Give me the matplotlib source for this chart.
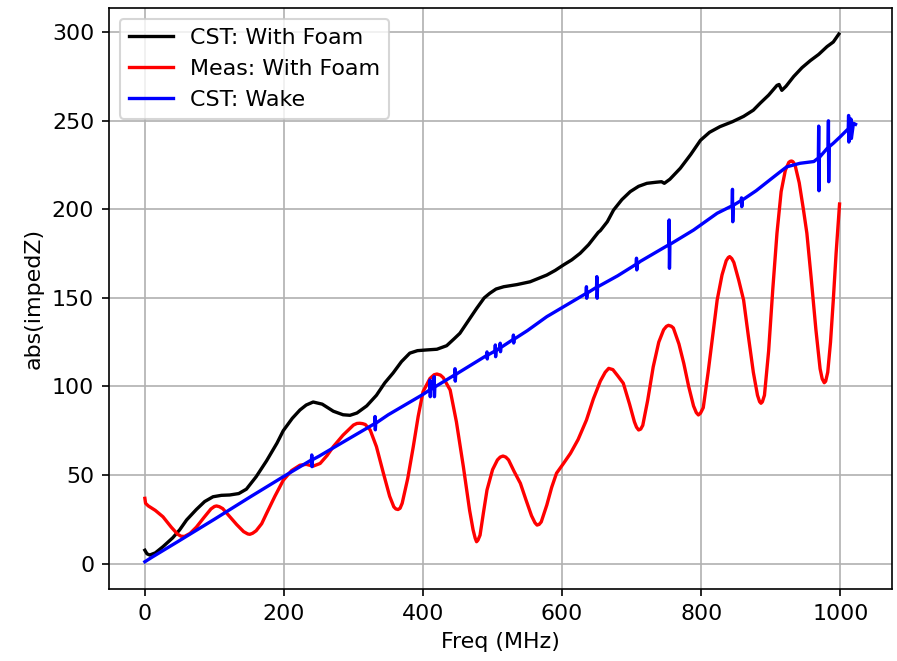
import matplotlib
matplotlib.use('Agg')
import matplotlib.pyplot as plt

plt.rcParams['font.size'] = 10.6
plt.rcParams['lines.linewidth'] = 1.6

# CST: With Foam (black)
foam_x = [0, 3, 7, 15, 26, 40, 50, 60, 74, 86, 98, 110, 122, 135, 146, 160, 175, 190, 199,
          212, 223, 232, 242, 255, 271, 285, 295, 305, 319, 333, 345, 357, 369, 381, 392,
          405, 420, 434, 445, 453, 465, 477, 488, 496, 505, 516, 535, 554, 578, 590, 602,
          614, 626, 638, 648, 652, 655, 665, 674, 686, 698, 710, 722, 735, 743, 747, 755,
          770, 785, 799, 812, 827, 845, 861, 875, 885, 897, 909, 912, 916, 922, 933, 945,
          957, 969, 981, 990, 998]
foam_y = [7.5, 5.5, 4.8, 6, 9.5, 14.5, 19, 24.6, 30.5, 35, 37.7, 38.5, 38.7, 39.5, 42, 49, 58,
          68, 75, 82, 86.7, 89.5, 91.2, 90, 86, 84, 83.7, 85, 89, 95, 102, 107.6, 114, 118.8,
          120.2, 120.6, 121, 123, 127, 130, 137, 144, 150, 152.6, 155, 156.3, 157.5, 159.1,
          162.9, 165.5, 168.6, 171.5, 175.2, 180, 185, 187, 188, 193, 199.6, 205.5, 210, 213,
          214.7, 215.3, 215.6, 214.7, 217, 223.2, 231, 239, 243.5, 246.7, 249.5, 252.5, 256,
          260, 264.5, 270, 270.5, 267.2, 269.5, 275, 280, 284, 287.5, 291.9, 294.5, 299]

# Meas: With Foam (red)
meas_x = [0, 1, 5, 15, 26, 38, 47, 52, 57, 65, 74, 85, 95, 100, 103, 107, 112, 122, 132, 142,
          148, 151, 155, 160, 168, 175, 187, 199, 211, 223, 232, 242, 252, 262, 271, 285, 300,
          305, 309, 313, 317, 324, 333, 343, 352, 358, 361, 364, 367, 370, 378, 386, 393, 400,
          410, 416, 420, 425, 429, 439, 448, 458, 467, 472, 475, 477, 479, 482, 487, 492, 500,
          507, 511, 515, 519, 523, 531, 540, 548, 556, 561, 564, 567, 570, 578, 585, 592, 602,
          612, 623, 635, 645, 655, 662, 667, 673, 680, 688, 697, 704, 707, 710, 713, 716, 723,
          731, 739, 746, 750, 753, 757, 760, 768, 775, 782, 789, 793, 796, 799, 803, 810, 817,
          823, 830, 836, 839, 841, 844, 847, 854, 861, 868, 875, 881, 884, 886, 888, 891, 897,
          903, 909, 915, 921, 926, 928, 930, 932, 935, 941, 947, 952, 958, 965, 971, 974, 977,
          979, 982, 986, 990, 994, 999]
meas_y = [36.8, 34, 32.5, 30, 26.4, 20.5, 16.6, 15.4, 15.3, 17, 20.5, 26, 30.8, 32.2, 32.5,
          32.1, 31, 26.5, 22, 18, 16.7, 16.5, 17.1, 18.5, 22.5, 28.3, 38, 47, 52.5, 55.5, 56,
          55, 56.5, 61, 66, 72.5, 78.2, 79.1, 79.2, 79.0, 78.5, 75.4, 66, 51, 38, 32, 30.8,
          30.5, 31.2, 34, 48, 66, 83, 97, 104.5, 106.6, 107, 106.4, 105, 98, 80, 54.7, 30, 19,
          14.3, 12.3, 13.2, 16, 29, 41.5, 53, 58.5, 60.1, 60.7, 60.1, 58.5, 52, 45.3, 36, 27,
          23, 21.7, 22.1, 23.5, 33, 43, 51, 56.5, 62.2, 70, 81, 93, 103, 108, 110.2, 109.5,
          106, 101.8, 90, 80, 77, 75.4, 75.9, 78, 92, 111, 125, 132, 133.9, 134.5, 134.0, 133,
          124, 113, 100, 89, 85.2, 83.9, 84.9, 88, 108, 130, 148.8, 163, 171, 172.8, 173.3,
          172.2, 170, 160, 148.8, 128, 108, 95, 91.4, 90.5, 91.3, 95, 120, 155, 186.5, 210,
          222, 226.5, 227.1, 227.3, 226.9, 225, 215, 200, 186.5, 162, 132, 110, 104.3, 102.1,
          102.9, 108, 125, 148.8, 175, 203]

# CST: Wake (blue), including its narrow resonance spikes
wake_x = [0, 10, 50, 100, 151, 199,
          239.5, 240, 240.4, 241, 250, 300,
          330.5, 331, 331.4, 332, 350, 400,
          409.5, 410, 410.4, 411, 415.5, 416, 416.4, 417,
          445.5, 446, 446.4, 447, 450,
          491.5, 492, 492.4, 493, 503.5, 504, 504.4, 505, 510.5, 511, 511.4, 512,
          529.5, 530, 530.4, 531, 550, 578, 600,
          634.5, 635, 635.4, 636, 649.5, 650, 650.4, 651, 680,
          706.5, 707, 707.4, 708, 712, 736,
          753.5, 754, 754.4, 755, 789, 823,
          844.5, 845, 845.4, 846, 857.5, 858, 858.4, 859, 879, 900, 914, 923, 942, 962,
          968.5, 969, 969.4, 970, 982.5, 983, 983.4, 984, 990, 1000,
          1011.5, 1012, 1012.4, 1013, 1015, 1015.4, 1016, 1019, 1022]
wake_y = [1, 3.5, 13, 25, 37.5, 49,
          58.5, 61.3, 54.7, 58.6, 60.5, 72,
          79, 83, 75.5, 79.2, 84, 95.5,
          98, 103.6, 94.2, 98.2, 99.5, 105.5, 94.2, 99.7,
          106.5, 110, 103, 106.7, 107.5,
          117.5, 119.5, 115.5, 117.7, 120, 123.4, 116.8, 120.2, 121.8, 124.4, 119.6, 122,
          126.5, 129, 124.5, 126.7, 131.5, 139.4, 144.5,
          152.5, 156.3, 149.8, 152.7, 156, 162, 149.8, 156.2, 162.5,
          169, 172.4, 165.8, 169.2, 170.5, 176,
          180, 194, 166.7, 180.2, 188.3, 197.8,
          202, 211.3, 193, 202.2, 205, 206.5, 201.5, 205.2, 210.5, 217, 221.3, 224, 226, 227,
          229, 247, 210.5, 229.3, 235, 250, 215.6, 235.3, 237.3, 241,
          245.5, 253, 238, 246, 246.5, 251, 240, 248.6, 248]

fig = plt.figure(figsize=(5.98, 4.4067), dpi=150)
ax = fig.add_axes([0.1212, 0.1089, 0.8729, 0.879])
ax.plot(foam_x, foam_y, color='k', label='CST: With Foam')
ax.plot(meas_x, meas_y, color='r', label='Meas: With Foam')
ax.plot(wake_x, wake_y, color='b', label='CST: Wake')
ax.set_xlim(-52, 1074)
ax.set_ylim(-14.4, 313.7)
ax.set_xticks([0, 200, 400, 600, 800, 1000])
ax.set_yticks([0, 50, 100, 150, 200, 250, 300])
ax.grid(True)
ax.set_xlabel('Freq (MHz)')
ax.set_ylabel('abs(impedZ)')
ax.legend(loc='upper left')
fig.savefig('out.png', dpi=150)
